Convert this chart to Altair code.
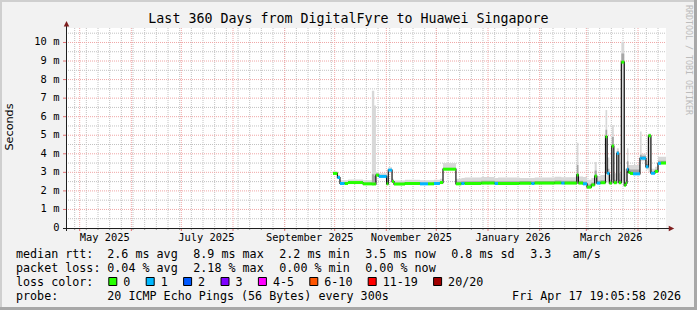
import altair as alt
import pandas as pd

# ---------------- data ----------------
TITLE = "Last 360 Days from DigitalFyre to Huawei Singapore"
Y_MAX = 10.78

# change points of the median RTT (ms); each value holds until the next date
dates = [
    "2025-09-30T00:00", "2025-10-02T16:00", "2025-10-04T04:00", "2025-10-07T00:00", "2025-10-09T00:00",
    "2025-10-18T00:00", "2025-10-23T08:00", "2025-10-24T18:00", "2025-10-25T18:00", "2025-10-27T12:00",
    "2025-11-01T04:00", "2025-11-02T04:00", "2025-11-04T10:00", "2025-11-05T14:00", "2025-11-12T04:00",
    "2025-11-21T04:00", "2025-11-26T00:00", "2025-11-29T14:00", "2025-12-03T04:00", "2025-12-05T00:00",
    "2025-12-12T18:00", "2025-12-16T00:00", "2025-12-18T00:00", "2025-12-28T00:00", "2026-01-05T00:00",
    "2026-01-07T00:00", "2026-01-20T00:00", "2026-01-27T00:00", "2026-01-29T00:00", "2026-02-10T00:00",
    "2026-02-14T00:00", "2026-02-16T00:00", "2026-02-23T06:00", "2026-02-24T06:00", "2026-02-27T00:00",
    "2026-03-01T10:00", "2026-03-04T00:00", "2026-03-06T00:00", "2026-03-07T06:00", "2026-03-09T12:00",
    "2026-03-12T12:00", "2026-03-13T12:00", "2026-03-14T20:00", "2026-03-16T06:00", "2026-03-17T12:00",
    "2026-03-19T06:00", "2026-03-20T12:00", "2026-03-22T00:00", "2026-03-23T18:00", "2026-03-24T18:00",
    "2026-03-25T10:00", "2026-03-26T06:00", "2026-03-27T06:00", "2026-03-29T00:00", "2026-04-02T04:00",
    "2026-04-03T04:00", "2026-04-05T18:00", "2026-04-07T06:00", "2026-04-08T18:00", "2026-04-11T04:00",
    "2026-04-13T00:00", "2026-04-14T18:00",
]
median_ms = [
    2.94, 2.72, 2.40, 2.40, 2.45,
    2.38, 2.37, 2.37, 2.85, 2.78,
    2.38, 3.12, 2.50, 2.37, 2.40,
    2.38, 2.38, 2.40, 2.45, 3.17,
    2.38, 2.40, 2.40, 2.42, 2.40,
    2.40, 2.41, 2.40, 2.42, 2.43,
    2.42, 2.42, 2.86, 2.42, 2.38,
    2.20, 2.32, 2.80, 2.42, 2.44,
    4.92, 2.95, 2.42, 4.42, 2.44,
    4.03, 2.44, 8.94, 2.30, 2.42,
    3.17, 3.00, 2.94, 2.92, 3.76,
    3.76, 3.30, 4.97, 2.95, 3.05,
    3.48, 3.50,
]
lost_pings = [
    0, 1, 1, 0, 0,
    0, 0, 0, 0, 1,
    0, 1, 0, 0, 0,
    1, 0, 1, 0, 0,
    0, 1, 0, 0, 1,
    0, 0, 1, 0, 0,
    1, 0, 0, 0, 1,
    0, 0, 0, 1, 0,
    0, 1, 0, 0, 0,
    1, 0, 0, 0, 0,
    1, 0, 0, 1, 1,
    1, 1, 0, 1, 0,
    1, 0,
]
smoke_low = [
    2.92, 2.70, 2.38, 2.38, 2.43,
    2.36, 2.35, 2.35, 2.83, 2.76,
    2.36, 3.08, 2.46, 2.35, 2.38,
    2.36, 2.36, 2.38, 2.43, 3.12,
    2.36, 2.38, 2.38, 2.40, 2.38,
    2.38, 2.39, 2.38, 2.40, 2.41,
    2.40, 2.40, 2.40, 2.40, 2.36,
    2.18, 2.30, 2.40, 2.40, 2.42,
    2.90, 2.45, 2.40, 2.60, 2.42,
    2.60, 2.42, 2.50, 2.28, 2.40,
    3.00, 2.95, 2.92, 2.90, 3.60,
    3.60, 3.15, 3.00, 2.92, 3.02,
    3.45, 3.46,
]
smoke_q3 = [
    3.00, 2.78, 2.46, 2.46, 2.52,
    2.45, 2.90, 2.80, 2.92, 2.85,
    2.44, 3.18, 2.56, 2.44, 2.47,
    2.45, 2.45, 2.47, 2.52, 3.24,
    2.50, 2.52, 2.52, 2.55, 2.52,
    2.52, 2.53, 2.52, 2.54, 2.56,
    2.55, 2.55, 3.40, 2.55, 2.50,
    2.35, 2.45, 3.10, 2.55, 2.58,
    5.30, 3.20, 2.60, 4.90, 2.60,
    4.15, 2.60, 9.40, 2.50, 2.60,
    3.60, 3.20, 3.15, 3.15, 3.95,
    3.90, 3.45, 5.05, 3.05, 3.15,
    3.62, 3.62,
]
smoke_high = [
    3.06, 2.86, 2.58, 2.58, 2.62,
    2.58, 7.40, 6.60, 3.02, 2.95,
    2.55, 3.28, 2.66, 2.56, 2.60,
    2.58, 2.58, 2.60, 2.65, 3.50,
    2.66, 2.70, 2.72, 2.75, 2.70,
    2.72, 2.70, 2.70, 2.72, 2.76,
    2.74, 2.74, 4.60, 2.78, 2.75,
    2.60, 2.70, 3.56, 2.80, 2.85,
    6.36, 3.80, 2.90, 5.55, 2.95,
    4.30, 2.95, 10.04, 3.20, 2.95,
    4.30, 3.40, 3.40, 3.40, 5.20,
    4.00, 3.60, 5.10, 3.20, 3.30,
    3.84, 3.84,
]

loss_labels = ["0", "1", "2", "3", "4-5", "6-10", "11-19", "20/20"]
loss_colors = ["#26ff00", "#00b8ff", "#0059ff", "#7e00ff", "#ff00ff", "#ff5500", "#ff0000", "#a10000"]

y_ticks = [0, 1, 2, 3, 4, 5, 6, 7, 8, 9, 10]
y_tick_labels = ["0\u00a0\u00a0", "1 m", "2 m", "3 m", "4 m", "5 m", "6 m", "7 m", "8 m", "9 m", "10 m"]
x_label_dates = ["2025-05-16", "2025-07-16", "2025-09-16", "2025-11-16", "2026-01-16", "2026-03-16"]
x_labels = ["May 2025", "July 2025", "September 2025", "November 2025", "January 2026", "March 2026"]

row_median = ["median rtt:", "2.6 ms avg", "8.9 ms max", "2.2 ms min", "3.5 ms now", "0.8 ms sd",
              "3.3\u00a0\u00a0\u00a0am/s"]
row_loss = ["packet loss:", "0.04 % avg", "2.18 % max", "0.00 % min", "0.00 % now"]
row_probe = ["probe:", "20 ICMP Echo Pings (56 Bytes) every 300s"]
stamp = "Fri Apr 17 19:05:58 2026"

# ---------------- layout ----------------
W, H = 600, 200
LEFT, TOP = 66, 28
MONO = "DejaVu Sans Mono"
START = alt.DateTime(year=2025, month=4, date=22, hours=19, minutes=5, seconds=58)
END = alt.DateTime(year=2026, month=4, date=17, hours=19, minutes=5, seconds=58)
END_TS = pd.Timestamp("2026-04-17T19:05:58")

xs = alt.Scale(domain=[START, END])
ys = alt.Scale(domain=[0, Y_MAX])


def loss_label(n):
    if n <= 3:
        return str(n)
    if n <= 5:
        return "4-5"
    if n <= 10:
        return "6-10"
    if n <= 19:
        return "11-19"
    return "20/20"


df = pd.DataFrame({
    "date": pd.to_datetime(dates),
    "median": median_ms,
    "loss": [loss_label(n) for n in lost_pings],
    "lo": smoke_low,
    "q3": smoke_q3,
    "hi": smoke_high,
})
df["next"] = df["date"].shift(-1)
df.loc[df.index[-1], "next"] = END_TS
closing = df.iloc[[-1]].copy()
closing["date"] = END_TS
steps = pd.concat([df, closing], ignore_index=True)

one = pd.DataFrame({"k": [0]})
base = alt.Chart(one)


def px(x):
    return alt.value(x - LEFT)


def py(y):
    return alt.value(y - TOP)


def text(s, x, y, size=11.7, align="left", font=MONO, color="#000000", angle=None, baseline="alphabetic"):
    kw = dict(text=s, fontSize=size, font=font, align=align, baseline=baseline, color=color)
    if angle is not None:
        kw["angle"] = angle
    return base.mark_text(**kw).encode(x=px(x), y=py(y))


layers = []

# frame (3D border)
layers.append(base.mark_rect(color="#cfcfcf").encode(x=px(0), x2=px(697), y=py(0), y2=py(2)))
layers.append(base.mark_rect(color="#cfcfcf").encode(x=px(0), x2=px(2), y=py(0), y2=py(310)))
layers.append(base.mark_rect(color="#a8a8a8").encode(x=px(694), x2=px(697), y=py(0), y2=py(310)))
layers.append(base.mark_rect(color="#a8a8a8").encode(x=px(0), x2=px(697), y=py(307), y2=py(310)))

# grid
weeks = pd.DataFrame({"d": pd.date_range("2025-04-28", "2026-04-13", freq="7D")})
months = pd.DataFrame({"d": pd.date_range("2025-05-01", "2026-04-01", freq="MS")})
minor_h = pd.DataFrame({"v": [i + 0.5 for i in range(11)]})
major_h = pd.DataFrame({"v": y_ticks[1:]})
GRID = "#c2c2c2"
MGRID = "#f0a6a6"
layers.append(alt.Chart(weeks).mark_rule(color=GRID, strokeDash=[1, 1], strokeWidth=1).encode(
    x=alt.X("d:T", scale=xs, axis=None), y=alt.value(0), y2=alt.value(H)))
layers.append(alt.Chart(minor_h).mark_rule(color=GRID, strokeDash=[1, 1], strokeWidth=1).encode(
    y=alt.Y("v:Q", scale=ys, axis=None), x=alt.value(0), x2=alt.value(W)))
layers.append(alt.Chart(months).mark_rule(color=MGRID, strokeDash=[1, 1], strokeWidth=1).encode(
    x=alt.X("d:T", scale=xs, axis=None), y=alt.value(0), y2=alt.value(H)))
layers.append(alt.Chart(major_h).mark_rule(color=MGRID, strokeDash=[1, 1], strokeWidth=1).encode(
    y=alt.Y("v:Q", scale=ys, axis=None), x=alt.value(0), x2=alt.value(W)))
# tick marks outside the axes
layers.append(alt.Chart(weeks).mark_rule(color="#9a9a9a").encode(
    x=alt.X("d:T", scale=xs, axis=None), y=alt.value(H), y2=alt.value(H + 2)))
layers.append(alt.Chart(months).mark_rule(color="#e07070").encode(
    x=alt.X("d:T", scale=xs, axis=None), y=alt.value(H), y2=alt.value(H + 3)))
layers.append(alt.Chart(major_h).mark_rule(color="#e07070").encode(
    y=alt.Y("v:Q", scale=ys, axis=None), x=alt.value(-3), x2=alt.value(0)))

# smoke
layers.append(alt.Chart(steps).mark_area(interpolate="step-after", color="#d8d8d8").encode(
    x=alt.X("date:T", scale=xs, axis=None), y=alt.Y("lo:Q", scale=ys, axis=None), y2="hi"))
layers.append(alt.Chart(steps).mark_area(interpolate="step-after", color="#a6a6a6").encode(
    x=alt.X("date:T", scale=xs, axis=None), y=alt.Y("median:Q", scale=ys, axis=None), y2="q3"))

# median line (black steps) + loss coloured segments
layers.append(alt.Chart(steps).mark_line(interpolate="step-after", color="#111111", strokeWidth=1.2).encode(
    x=alt.X("date:T", scale=xs, axis=None), y=alt.Y("median:Q", scale=ys, axis=None)))
layers.append(alt.Chart(df).mark_rule(strokeWidth=3, strokeCap="butt").encode(
    x=alt.X("date:T", scale=xs, axis=None), x2="next",
    y=alt.Y("median:Q", scale=ys, axis=None),
    color=alt.Color("loss:N", scale=alt.Scale(domain=loss_labels, range=loss_colors), legend=None)))

# axes
AXIS = "#1f1f1f"
ARROW = "#7f1f1f"
layers.append(base.mark_rule(color=AXIS).encode(x=alt.value(-3), x2=alt.value(W + 4), y=alt.value(H + 0.5)))
layers.append(base.mark_rule(color=AXIS).encode(x=alt.value(0.5), y=alt.value(-3), y2=alt.value(H + 3)))
layers.append(base.mark_point(shape="M0,-1L1,1L-1,1Z", filled=True, size=30, color=ARROW, opacity=1,
                              strokeWidth=0).encode(x=alt.value(0.5), y=alt.value(-4.2)))
layers.append(base.mark_point(shape="M1,0L-1,-1L-1,1Z", filled=True, size=30, color=ARROW, opacity=1,
                              strokeWidth=0).encode(x=alt.value(W + 5.5), y=alt.value(H + 0.5)))

# axis labels
layers.append(alt.Chart(pd.DataFrame({"v": y_ticks, "lab": y_tick_labels})).mark_text(
    align="right", baseline="middle", font=MONO, fontSize=10.4, color="#000000").encode(
    y=alt.Y("v:Q", scale=ys, axis=None), x=alt.value(-6.6), text="lab:N"))
layers.append(alt.Chart(pd.DataFrame({"d": pd.to_datetime(x_label_dates), "lab": x_labels})).mark_text(
    align="center", baseline="alphabetic", font=MONO, fontSize=10.4, color="#000000").encode(
    x=alt.X("d:T", scale=xs, axis=None), y=alt.value(240.7 - TOP), text="lab:N"))

# title, unit label, watermark
layers.append(text(TITLE, 348.5, 23.2, size=13.3, align="center"))
layers.append(text("Seconds", 9.8, 127, size=11.2, align="center", font="DejaVu Sans", angle=270,
                   baseline="middle"))
layers.append(text("RRDTOOL / TOBI OETIKER", 688, 5, size=8.3, align="left", color="#bcbcbc", angle=90,
                   baseline="middle"))

# legend rows
ROW_Y = [258.3, 272.1, 285.9, 299.7]
COL_X = [16, 107.3, 193.3, 279.3, 365.3, 451.3, 530.3]
for s, x in zip(row_median, COL_X):
    layers.append(text(s, x, ROW_Y[0]))
for s, x in zip(row_loss, COL_X):
    layers.append(text(s, x, ROW_Y[1]))
layers.append(text("loss color:", 16, ROW_Y[2]))
bx = 108.3
for lab, col in zip(loss_labels, loss_colors):
    layers.append(base.mark_rect(fill=col, stroke="#000000", strokeWidth=1).encode(
        x=px(bx + 0.5), x2=px(bx + 8.5), y=py(277.5), y2=py(285.5)))
    layers.append(text(lab, bx + 15, ROW_Y[2]))
    bx = bx + 15 + 7.0 * len(lab) + 15.4
for s, x in zip(row_probe, COL_X):
    layers.append(text(s, x, ROW_Y[3]))
layers.append(text(stamp, 681, ROW_Y[3], align="right"))

chart = alt.layer(*layers).properties(
    width=W, height=H, background="#f2f2f2",
    padding={"left": LEFT, "top": TOP, "right": 697 - LEFT - W, "bottom": 310 - TOP - H},
    autosize=alt.AutoSizeParams(type="none"),
).configure_view(stroke=None, fill="#ffffff")

chart.save("out.html", embed_options={"renderer": "svg", "actions": False})
